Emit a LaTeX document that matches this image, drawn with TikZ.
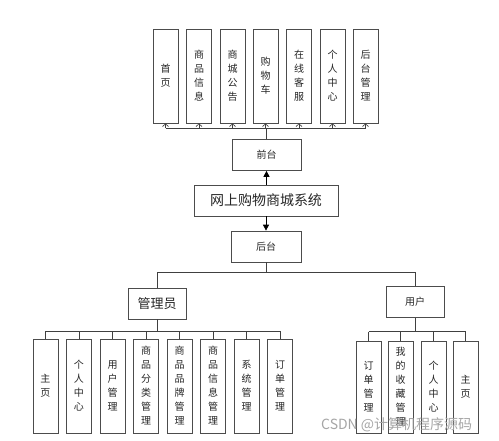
\documentclass[tikz,border=0pt]{standalone}
\usepackage{fontspec}
\newfontfamily\cjk{Noto Sans CJK SC}
\usetikzlibrary{arrows.meta}
\tikzset{
  box/.style={draw=black!70, line width=0.7pt, fill=white, inner sep=0pt, align=center, font=\cjk\fontsize{10}{14}\selectfont, text=black!85},
  tall/.style={box, minimum width=25pt, minimum height=94pt},
  wide/.style={box, minimum height=31pt},
  conn/.style={draw=black!75, line width=0.8pt},
  openarr/.style={conn, -{Straight Barb[length=2.8pt,width=6pt,line width=0.6pt]}},
  fillarr/.style={conn, -{Triangle[length=6pt,width=6pt]}, draw=black}
}
\begin{document}
\begin{tikzpicture}[x=1pt,y=-1pt]
\useasboundingbox (0,0) rectangle (499,440);
\fill[white] (0,0) rectangle (499,440);
% top row
\node[tall] (t1) at (165.5,76) {首\\页};
\node[tall] (t2) at (199,76) {商\\品\\信\\息};
\node[tall] (t3) at (232.5,76) {商\\城\\公\\告};
\node[tall] (t4) at (265.5,76) {购\\物\\车};
\node[tall] (t5) at (299,76) {在\\线\\客\\服};
\node[tall] (t6) at (332.5,76) {个\\人\\中\\心};
\node[tall] (t7) at (365.5,76) {后\\台\\管\\理};
% middle
\node[wide, minimum width=69pt] (qt) at (266.5,155) {前台};
\node[wide, minimum width=144pt, font=\cjk\fontsize{14}{16}\selectfont] (sys) at (266,200.5) {网上购物商城系统};
\node[wide, minimum width=70pt] (ht) at (266,246.5) {后台};
% second level
\node[wide, minimum width=58pt, font=\cjk\fontsize{13}{15}\selectfont] (adm) at (157,303.5) {管理员};
\node[wide, minimum width=58pt] (usr) at (415,302) {用户};
% admin children
\node[tall] (a1) at (45.5,386) {主\\页};
\node[tall] (a2) at (79,386) {个\\人\\中\\心};
\node[tall] (a3) at (112.5,386) {用\\户\\管\\理};
\node[tall] (a4) at (146,386) {商\\品\\分\\类\\管\\理};
\node[tall] (a5) at (179.5,386) {商\\品\\品\\牌\\管\\理};
\node[tall] (a6) at (213,386) {商\\品\\信\\息\\管\\理};
\node[tall] (a7) at (246.5,386) {系\\统\\管\\理};
\node[tall] (a8) at (280,386) {订\\单\\管\\理};
% user children
\node[tall, minimum height=92pt] (u1) at (368.5,387) {订\\单\\管\\理};
\node[tall, minimum height=92pt] (u2) at (400.5,387) {我\\的\\收\\藏\\管\\理};
\node[tall, minimum height=92pt] (u3) at (433.5,387) {个\\人\\中\\心};
\node[tall, minimum height=92pt] (u4) at (465.5,387) {主\\页};
% connectors top
\draw[conn] (qt.north) -- ++(0,-11) coordinate (tb);
\draw[conn] (t1.south |- tb) -- (t7.south |- tb);
\foreach \n in {t1,t2,t3,t4,t5,t6,t7}{
  \draw[openarr] (\n.south |- tb) -- (\n.south);
}
\draw[fillarr] (sys.north -| qt.south) -- (qt.south);
\draw[fillarr] (sys.south -| ht.north) -- (ht.north);
% backend split
\draw[conn] (ht.south) -- ++(0,10) coordinate (hb);
\draw[conn] (adm.north) -- (adm.north |- hb) -- (usr.north |- hb) -- (usr.north);
% admin bus
\draw[conn] (adm.south) -- ++(0,12) coordinate (ab);
\draw[conn] (a1.north |- ab) -- (a8.north |- ab);
\foreach \n in {a1,a2,a3,a4,a5,a6,a7,a8}{
  \draw[conn] (\n.north |- ab) -- (\n.north);
}
% user bus
\draw[conn] (usr.south) -- ++(0,14) coordinate (ub);
\draw[conn] (u1.north |- ub) -- (u4.north |- ub);
\foreach \n in {u1,u2,u3,u4}{
  \draw[conn] (\n.north |- ub) -- (\n.north);
}
% watermark
\node[text=black!35, font=\cjk\fontsize{14}{16}\selectfont, anchor=west, inner sep=0pt] (wm) at (321,425) {CSDN @计算机程序源码};
\end{tikzpicture}
\end{document}
